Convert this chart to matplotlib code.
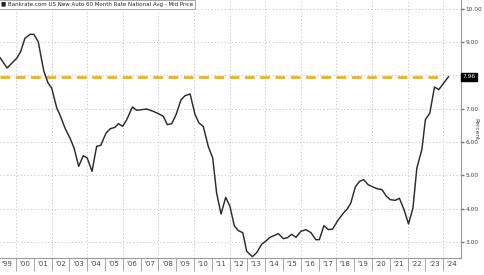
import numpy as np
import matplotlib
matplotlib.use("Agg")
import matplotlib.pyplot as plt

# approximate readings
years = [1999.1, 1999.5, 1999.85, 2000.04, 2000.26, 2000.5, 2000.79, 2001.0, 2001.25,
         2001.44, 2001.57, 2001.8, 2002.0, 2002.29, 2002.5, 2002.75, 2003.03, 2003.26,
         2003.52, 2003.78, 2004.0, 2004.27, 2004.53, 2004.76, 2005.06, 2005.3, 2005.56,
         2005.75, 2005.99, 2006.22, 2006.54, 2006.78, 2007.06, 2007.34, 2007.71, 2008.0,
         2008.28, 2008.5, 2008.75, 2008.99, 2009.27, 2009.5, 2009.78, 2010.06, 2010.28,
         2010.52, 2010.8, 2011.05, 2011.27, 2011.52, 2011.78, 2012.02, 2012.26, 2012.49,
         2012.74, 2012.96, 2013.28, 2013.52, 2013.8, 2014.04, 2014.27, 2014.74, 2015.02,
         2015.25, 2015.49, 2015.73, 2016.0, 2016.29, 2016.57, 2016.84, 2017.04, 2017.3,
         2017.55, 2017.79, 2018.11, 2018.4, 2018.62, 2018.81, 2019.06, 2019.3, 2019.53,
         2019.78, 2020.06, 2020.28, 2020.56, 2020.81, 2021.03, 2021.31, 2021.54, 2021.8,
         2022.05, 2022.3, 2022.52, 2022.8, 2023.0, 2023.25, 2023.51, 2023.75, 2024.03,
         2024.3]
rate = [8.53, 8.22, 8.41, 8.51, 8.71, 9.11, 9.23, 9.23, 9.01,
        8.46, 8.11, 7.77, 7.62, 7.02, 6.77, 6.42, 6.12, 5.82,
        5.27, 5.59, 5.52, 5.12, 5.87, 5.90, 6.27, 6.40, 6.44,
        6.55, 6.47, 6.67, 7.05, 6.95, 6.97, 6.99, 6.92, 6.85,
        6.77, 6.52, 6.55, 6.82, 7.27, 7.39, 7.44, 6.82, 6.57,
        6.47, 5.87, 5.52, 4.47, 3.84, 4.34, 4.07, 3.49, 3.34,
        3.28, 2.72, 2.56, 2.68, 2.93, 3.03, 3.14, 3.25, 3.10,
        3.13, 3.23, 3.14, 3.32, 3.37, 3.28, 3.07, 3.07, 3.49,
        3.37, 3.39, 3.67, 3.87, 4.00, 4.17, 4.65, 4.82, 4.87,
        4.72, 4.65, 4.60, 4.57, 4.37, 4.27, 4.25, 4.31, 3.97,
        3.54, 4.02, 5.22, 5.77, 6.67, 6.87, 7.65, 7.57, 7.77,
        7.96]
last_value = 7.96
title = "Bankrate.com US New Auto 60 Month Rate National Avg - Mid Price"
year_labels = ["'%02d" % (y % 100) for y in range(1999, 2025)]
y_ticks = [3, 4, 5, 6, 7, 8, 9, 10]

fig = plt.figure(figsize=(4.85, 2.75), dpi=100)
ax = fig.add_axes([0.0, 1 - 258 / 275, 461 / 485, 258 / 275])

xmin, xmax = 1999.1, 2025.0
ax.set_xlim(xmin, xmax)
ax.set_ylim(2.52, 10.26)

# grid
for yy in y_ticks:
    ax.axhline(yy, color="#bdbdbd", lw=0.7, ls=(0, (1, 2.5)), zorder=0)
for xx in range(2000, 2025, 2):
    ax.axvline(xx, color="#bdbdbd", lw=0.7, ls=(0, (1, 2.5)), zorder=0)

ax.plot(years, rate, color="#2b2b2b", lw=1.05, zorder=3)
ax.hlines(last_value, xmin, 2024.0, color="#f5b400", lw=2.0,
          linestyles=(0, (3.5, 2.0)), zorder=2)

# spines
for s in ["top", "left"]:
    ax.spines[s].set_visible(False)
for s in ["right", "bottom"]:
    ax.spines[s].set_color("#9a9a9a")
    ax.spines[s].set_linewidth(0.8)

# x ticks: separators at year boundaries, labels mid-year
ax.set_xticks(range(2000, 2025))
ax.set_xticklabels([])
ax.tick_params(axis="x", which="major", length=9, width=0.6, color="#9a9a9a", direction="out")
ax.set_xticks([y + 0.5 for y in range(1999, 2025)], minor=True)
ax.set_xticklabels(year_labels, minor=True, fontsize=5, color="#444444")
ax.tick_params(axis="x", which="minor", length=0, pad=2)

# y ticks on right
ax.yaxis.tick_right()
ax.set_yticks(y_ticks)
ax.set_yticklabels(["%.2f" % v if v != 8 else "" for v in y_ticks], fontsize=4.2, color="#444444")
ax.tick_params(axis="y", length=2, width=1.0, color="#777777", pad=1.2)
ax.set_ylabel("Percent", fontsize=4.2, color="#444444", rotation=270, va="center")
ax.yaxis.set_label_position("right")
ax.yaxis.set_label_coords(1.037, 0.5)

ax.text(1.004, last_value, "%.2f" % last_value, transform=ax.get_yaxis_transform(),
        fontsize=4.2, color="white", va="center", ha="left",
        bbox=dict(boxstyle="square,pad=0.25", fc="black", ec="black"))

ax.text(0.003, 0.993, "\u25A0 " + title, transform=ax.transAxes, fontsize=4.0,
        color="#222222", va="top", ha="left",
        bbox=dict(boxstyle="square,pad=0.35", fc="white", ec="#9a9a9a", lw=0.6),
        zorder=5)

fig.savefig("out.png", dpi=100)
